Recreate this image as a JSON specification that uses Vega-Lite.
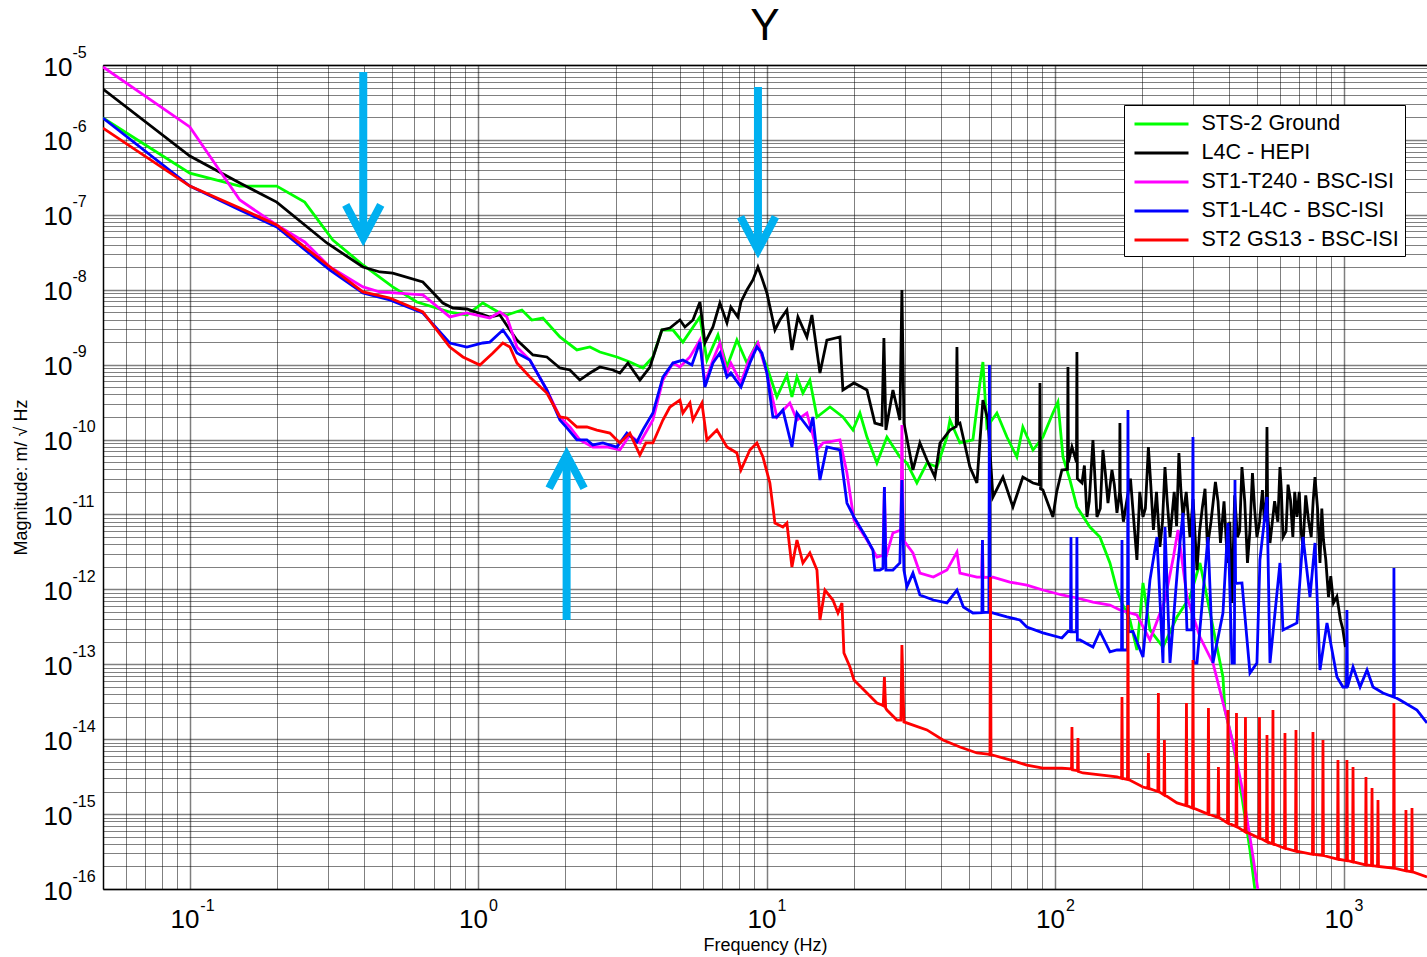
{
"$schema": "https://vega.github.io/schema/vega-lite/v6.json",
"width": 1324, "height": 824,
"autosize": {"type": "none"},
"padding": {"left": 103, "top": 65, "right": 0, "bottom": 68},
"background": "white",
"title": {"text": "Y", "fontSize": 44, "font": "Liberation Sans", "fontWeight": "normal", "anchor": "middle", "frame": "group", "offset": 0, "dy": 40, "baseline": "alphabetic", "color": "#000"},
"config": {"view": {"stroke": null}, "font": "Liberation Sans", "axis": {"labelFont": "Liberation Sans", "titleFont": "Liberation Sans", "labelColor": "#000", "titleColor": "#000"}},
"resolve": {"axis": {"x": "independent", "y": "independent"}},
"datasets": {
"arrows": [
{"f": 0.399, "tail": 8.06e-6, "head": 4.9e-8, "dir": "down"},
{"f": 9.31, "tail": 5.09e-6, "head": 3.39e-8, "dir": "down"},
{"f": 2.022, "tail": 3.9e-13, "head": 6.22e-11, "dir": "up"}
],
"curves": [
{"s":"STS-2 Ground","f":0.05,"v":1.96e-6},{"s":"STS-2 Ground","f":0.1,"v":3.6e-7},{"s":"STS-2 Ground","f":0.149,"v":2.42e-7},{"s":"STS-2 Ground","f":0.2,"v":2.42e-7},{"s":"STS-2 Ground","f":0.25,"v":1.48e-7},{"s":"STS-2 Ground","f":0.313,"v":4.61e-8},{"s":"STS-2 Ground","f":0.398,"v":2.14e-8},{"s":"STS-2 Ground","f":0.505,"v":1.09e-8},{"s":"STS-2 Ground","f":0.612,"v":6.86e-9},{"s":"STS-2 Ground","f":0.796,"v":5.04e-9},{"s":"STS-2 Ground","f":0.912,"v":4.6e-9},{"s":"STS-2 Ground","f":1.036,"v":6.65e-9},{"s":"STS-2 Ground","f":1.187,"v":4.89e-9},{"s":"STS-2 Ground","f":1.255,"v":4.6e-9},{"s":"STS-2 Ground","f":1.415,"v":5.36e-9},{"s":"STS-2 Ground","f":1.532,"v":3.94e-9},{"s":"STS-2 Ground","f":1.673,"v":4.19e-9},{"s":"STS-2 Ground","f":1.917,"v":2.34e-9},{"s":"STS-2 Ground","f":2.195,"v":1.57e-9},{"s":"STS-2 Ground","f":2.435,"v":1.72e-9},{"s":"STS-2 Ground","f":2.637,"v":1.475e-9},{"s":"STS-2 Ground","f":3.02,"v":1.265e-9},{"s":"STS-2 Ground","f":3.35,"v":1.084e-9},{"s":"STS-2 Ground","f":3.717,"v":9.02e-10},{"s":"STS-2 Ground","f":4.026,"v":1.265e-9},{"s":"STS-2 Ground","f":4.325,"v":2.9e-9},{"s":"STS-2 Ground","f":4.724,"v":2.9e-9},{"s":"STS-2 Ground","f":5.114,"v":2.0e-9},{"s":"STS-2 Ground","f":5.86,"v":4.33e-9},{"s":"STS-2 Ground","f":6.194,"v":1.153e-9},{"s":"STS-2 Ground","f":6.765,"v":2.49e-9},{"s":"STS-2 Ground","f":7.27,"v":9.3e-10},{"s":"STS-2 Ground","f":7.87,"v":2.13e-9},{"s":"STS-2 Ground","f":8.525,"v":1.05e-9},{"s":"STS-2 Ground","f":9.234,"v":1.945e-9},{"s":"STS-2 Ground","f":10.0,"v":9.3e-10},{"s":"STS-2 Ground","f":10.83,"v":3.7e-10},{"s":"STS-2 Ground","f":11.73,"v":7.27e-10},{"s":"STS-2 Ground","f":12.21,"v":3.7e-10},{"s":"STS-2 Ground","f":12.71,"v":6.84e-10},{"s":"STS-2 Ground","f":13.33,"v":4.18e-10},{"s":"STS-2 Ground","f":14.09,"v":6.23e-10},{"s":"STS-2 Ground","f":14.91,"v":2.0e-10},{"s":"STS-2 Ground","f":16.54,"v":2.72e-10},{"s":"STS-2 Ground","f":18.34,"v":2.0e-10},{"s":"STS-2 Ground","f":19.87,"v":1.34e-10},{"s":"STS-2 Ground","f":21.01,"v":2.26e-10},{"s":"STS-2 Ground","f":22.22,"v":1.08e-10},{"s":"STS-2 Ground","f":24.06,"v":4.86e-11},{"s":"STS-2 Ground","f":26.06,"v":1.08e-10},{"s":"STS-2 Ground","f":28.9,"v":5.85e-11},{"s":"STS-2 Ground","f":30.57,"v":4.86e-11},{"s":"STS-2 Ground","f":33.1,"v":2.63e-11},{"s":"STS-2 Ground","f":35.86,"v":4.86e-11},{"s":"STS-2 Ground","f":38.85,"v":4.3e-11},{"s":"STS-2 Ground","f":42.07,"v":1.08e-10},{"s":"STS-2 Ground","f":43.09,"v":1.82e-10},{"s":"STS-2 Ground","f":46.67,"v":9.0e-11},{"s":"STS-2 Ground","f":51.76,"v":9.87e-11},{"s":"STS-2 Ground","f":54.73,"v":5.69e-10},{"s":"STS-2 Ground","f":56.06,"v":1.084e-9},{"s":"STS-2 Ground","f":57.88,"v":1.47e-10},{"s":"STS-2 Ground","f":62.68,"v":2.26e-10},{"s":"STS-2 Ground","f":67.9,"v":1.08e-10},{"s":"STS-2 Ground","f":73.5,"v":5.85e-11},{"s":"STS-2 Ground","f":77.1,"v":1.47e-10},{"s":"STS-2 Ground","f":83.6,"v":7.25e-11},{"s":"STS-2 Ground","f":90.5,"v":1.08e-10},{"s":"STS-2 Ground","f":98.0,"v":2.26e-10},{"s":"STS-2 Ground","f":102.0,"v":3.17e-10},{"s":"STS-2 Ground","f":106.2,"v":5.85e-11},{"s":"STS-2 Ground","f":112.3,"v":2.88e-11},{"s":"STS-2 Ground","f":118.7,"v":1.26e-11},{"s":"STS-2 Ground","f":131.7,"v":6.8e-12},{"s":"STS-2 Ground","f":142.6,"v":5.0e-12},{"s":"STS-2 Ground","f":154.5,"v":2.25e-12},{"s":"STS-2 Ground","f":163.4,"v":9.8e-13},{"s":"STS-2 Ground","f":170.1,"v":6.58e-13},{"s":"STS-2 Ground","f":181.2,"v":3.9e-13},{"s":"STS-2 Ground","f":191.6,"v":1.55e-13},{"s":"STS-2 Ground","f":201.1,"v":1.22e-12},{"s":"STS-2 Ground","f":212.6,"v":2.87e-13},{"s":"STS-2 Ground","f":235.9,"v":1.7e-13},{"s":"STS-2 Ground","f":263.8,"v":4.28e-13},{"s":"STS-2 Ground","f":292.6,"v":7.91e-13},{"s":"STS-2 Ground","f":316.9,"v":2.25e-12},{"s":"STS-2 Ground","f":335.1,"v":7.91e-13},{"s":"STS-2 Ground","f":362.9,"v":1.7e-13},{"s":"STS-2 Ground","f":380.7,"v":6.76e-14},{"s":"STS-2 Ground","f":386.8,"v":2.45e-14},{"s":"STS-2 Ground","f":412.4,"v":8.89e-15},{"s":"STS-2 Ground","f":443.0,"v":1.69e-15},{"s":"STS-2 Ground","f":472.3,"v":3.32e-16},{"s":"STS-2 Ground","f":491.5,"v":9.7e-17},
{"s":"L4C - HEPI","f":0.05,"v":4.78e-6},{"s":"L4C - HEPI","f":0.1,"v":6.1e-7},{"s":"L4C - HEPI","f":0.149,"v":2.66e-7},{"s":"L4C - HEPI","f":0.2,"v":1.48e-7},{"s":"L4C - HEPI","f":0.2985,"v":4.21e-8},{"s":"L4C - HEPI","f":0.398,"v":2.01e-8},{"s":"L4C - HEPI","f":0.456,"v":1.725e-8},{"s":"L4C - HEPI","f":0.505,"v":1.67e-8},{"s":"L4C - HEPI","f":0.642,"v":1.27e-8},{"s":"L4C - HEPI","f":0.753,"v":6.65e-9},{"s":"L4C - HEPI","f":0.816,"v":5.7e-9},{"s":"L4C - HEPI","f":0.912,"v":5.53e-9},{"s":"L4C - HEPI","f":1.096,"v":4.33e-9},{"s":"L4C - HEPI","f":1.187,"v":4.6e-9},{"s":"L4C - HEPI","f":1.286,"v":2.9e-9},{"s":"L4C - HEPI","f":1.36,"v":2.13e-9},{"s":"L4C - HEPI","f":1.545,"v":1.345e-9},{"s":"L4C - HEPI","f":1.727,"v":1.265e-9},{"s":"L4C - HEPI","f":1.917,"v":9.02e-10},{"s":"L4C - HEPI","f":2.076,"v":8.48e-10},{"s":"L4C - HEPI","f":2.247,"v":6.23e-10},{"s":"L4C - HEPI","f":2.435,"v":7.73e-10},{"s":"L4C - HEPI","f":2.637,"v":9.3e-10},{"s":"L4C - HEPI","f":2.926,"v":8.48e-10},{"s":"L4C - HEPI","f":3.093,"v":7.73e-10},{"s":"L4C - HEPI","f":3.298,"v":1.05e-9},{"s":"L4C - HEPI","f":3.629,"v":6.23e-10},{"s":"L4C - HEPI","f":3.931,"v":9.3e-10},{"s":"L4C - HEPI","f":4.325,"v":2.9e-9},{"s":"L4C - HEPI","f":4.611,"v":3.08e-9},{"s":"L4C - HEPI","f":4.994,"v":3.94e-9},{"s":"L4C - HEPI","f":5.198,"v":3.18e-9},{"s":"L4C - HEPI","f":5.541,"v":3.94e-9},{"s":"L4C - HEPI","f":5.86,"v":6.86e-9},{"s":"L4C - HEPI","f":6.097,"v":1.945e-9},{"s":"L4C - HEPI","f":6.5,"v":3.18e-9},{"s":"L4C - HEPI","f":6.873,"v":6.65e-9},{"s":"L4C - HEPI","f":7.27,"v":3.6e-9},{"s":"L4C - HEPI","f":7.5,"v":5.88e-9},{"s":"L4C - HEPI","f":7.93,"v":4.33e-9},{"s":"L4C - HEPI","f":8.13,"v":6.86e-9},{"s":"L4C - HEPI","f":8.525,"v":9.92e-9},{"s":"L4C - HEPI","f":8.944,"v":1.35e-8},{"s":"L4C - HEPI","f":9.307,"v":2.01e-8},{"s":"L4C - HEPI","f":9.61,"v":1.43e-8},{"s":"L4C - HEPI","f":10.0,"v":9.05e-9},{"s":"L4C - HEPI","f":10.66,"v":2.9e-9},{"s":"L4C - HEPI","f":11.09,"v":3.94e-9},{"s":"L4C - HEPI","f":11.73,"v":5.36e-9},{"s":"L4C - HEPI","f":12.21,"v":1.57e-9},{"s":"L4C - HEPI","f":12.81,"v":4.33e-9},{"s":"L4C - HEPI","f":13.76,"v":2.34e-9},{"s":"L4C - HEPI","f":14.32,"v":4.6e-9},{"s":"L4C - HEPI","f":15.27,"v":7.73e-10},{"s":"L4C - HEPI","f":16.14,"v":2.13e-9},{"s":"L4C - HEPI","f":17.91,"v":2.34e-9},{"s":"L4C - HEPI","f":18.34,"v":4.59e-10},{"s":"L4C - HEPI","f":20.03,"v":5.69e-10},{"s":"L4C - HEPI","f":22.22,"v":4.59e-10},{"s":"L4C - HEPI","f":23.67,"v":1.66e-10},{"s":"L4C - HEPI","f":25.04,"v":1.56e-10},{"s":"L4C - HEPI","f":25.44,"v":2.27e-9},{"s":"L4C - HEPI","f":25.85,"v":1.34e-10},{"s":"L4C - HEPI","f":27.34,"v":4.59e-10},{"s":"L4C - HEPI","f":28.9,"v":1.82e-10},{"s":"L4C - HEPI","f":29.37,"v":9.92e-9},{"s":"L4C - HEPI","f":29.85,"v":1.66e-10},{"s":"L4C - HEPI","f":32.07,"v":3.92e-11},{"s":"L4C - HEPI","f":33.91,"v":9.0e-11},{"s":"L4C - HEPI","f":35.86,"v":5.33e-11},{"s":"L4C - HEPI","f":38.22,"v":3.16e-11},{"s":"L4C - HEPI","f":39.8,"v":9.0e-11},{"s":"L4C - HEPI","f":43.09,"v":1.34e-10},{"s":"L4C - HEPI","f":45.3,"v":1.5e-10},{"s":"L4C - HEPI","f":45.57,"v":1.72e-9},{"s":"L4C - HEPI","f":45.85,"v":1.6e-10},{"s":"L4C - HEPI","f":46.67,"v":1.66e-10},{"s":"L4C - HEPI","f":50.53,"v":4.3e-11},{"s":"L4C - HEPI","f":53.44,"v":2.63e-11},{"s":"L4C - HEPI","f":56.06,"v":3.37e-10},{"s":"L4C - HEPI","f":58.35,"v":1.82e-10},{"s":"L4C - HEPI","f":60.73,"v":1.71e-11},{"s":"L4C - HEPI","f":65.77,"v":3.16e-11},{"s":"L4C - HEPI","f":71.24,"v":1.26e-11},{"s":"L4C - HEPI","f":77.1,"v":3.16e-11},{"s":"L4C - HEPI","f":83.6,"v":2.63e-11},{"s":"L4C - HEPI","f":88.0,"v":2.5e-11},{"s":"L4C - HEPI","f":88.4,"v":5.69e-10},{"s":"L4C - HEPI","f":88.8,"v":2.2e-11},{"s":"L4C - HEPI","f":90.5,"v":2.12e-11},{"s":"L4C - HEPI","f":98.0,"v":9.25e-12},{"s":"L4C - HEPI","f":101.0,"v":2.0e-11},{"s":"L4C - HEPI","f":105.3,"v":3.92e-11},{"s":"L4C - HEPI","f":110.1,"v":4.0e-11},{"s":"L4C - HEPI","f":110.5,"v":9.3e-10},{"s":"L4C - HEPI","f":110.9,"v":5.0e-11},{"s":"L4C - HEPI","f":114.1,"v":7.95e-11},{"s":"L4C - HEPI","f":118.3,"v":5.0e-11},{"s":"L4C - HEPI","f":118.7,"v":1.475e-9},{"s":"L4C - HEPI","f":119.1,"v":3.0e-11},{"s":"L4C - HEPI","f":123.6,"v":2.63e-11},{"s":"L4C - HEPI","f":126.0,"v":4.5e-11},{"s":"L4C - HEPI","f":128.6,"v":9.25e-12},{"s":"L4C - HEPI","f":131.0,"v":1.5e-11},{"s":"L4C - HEPI","f":134.9,"v":9.87e-11},{"s":"L4C - HEPI","f":139.3,"v":9.25e-12},{"s":"L4C - HEPI","f":143.0,"v":1.2e-11},{"s":"L4C - HEPI","f":146.1,"v":7.25e-11},{"s":"L4C - HEPI","f":149.0,"v":3.5e-11},{"s":"L4C - HEPI","f":152.1,"v":1.42e-11},{"s":"L4C - HEPI","f":157.0,"v":3.92e-11},{"s":"L4C - HEPI","f":160.0,"v":2.5e-11},{"s":"L4C - HEPI","f":163.4,"v":1.05e-11},{"s":"L4C - HEPI","f":166.9,"v":2.0e-11},{"s":"L4C - HEPI","f":167.3,"v":1.66e-10},{"s":"L4C - HEPI","f":167.7,"v":2.0e-11},{"s":"L4C - HEPI","f":172.0,"v":8.0e-12},{"s":"L4C - HEPI","f":176.9,"v":1.56e-11},{"s":"L4C - HEPI","f":182.0,"v":3.0e-11},{"s":"L4C - HEPI","f":187.0,"v":8.0e-12},{"s":"L4C - HEPI","f":191.6,"v":2.47e-12},{"s":"L4C - HEPI","f":196.0,"v":2.0e-11},{"s":"L4C - HEPI","f":201.1,"v":9.25e-12},{"s":"L4C - HEPI","f":205.0,"v":1.2e-11},{"s":"L4C - HEPI","f":210.0,"v":7.95e-11},{"s":"L4C - HEPI","f":214.0,"v":2.5e-11},{"s":"L4C - HEPI","f":218.6,"v":6.2e-12},{"s":"L4C - HEPI","f":224.0,"v":2.0e-11},{"s":"L4C - HEPI","f":230.2,"v":3.68e-12},{"s":"L4C - HEPI","f":235.0,"v":8.0e-12},{"s":"L4C - HEPI","f":239.7,"v":4.3e-11},{"s":"L4C - HEPI","f":244.0,"v":1.5e-11},{"s":"L4C - HEPI","f":249.5,"v":5.0e-12},{"s":"L4C - HEPI","f":258.0,"v":2.0e-11},{"s":"L4C - HEPI","f":263.0,"v":7.0e-12},{"s":"L4C - HEPI","f":267.9,"v":6.61e-11},{"s":"L4C - HEPI","f":272.0,"v":2.2e-11},{"s":"L4C - HEPI","f":276.7,"v":9.25e-12},{"s":"L4C - HEPI","f":284.0,"v":2.0e-11},{"s":"L4C - HEPI","f":292.6,"v":5.0e-12},{"s":"L4C - HEPI","f":300.0,"v":1.6e-11},{"s":"L4C - HEPI","f":309.4,"v":1.81e-12},{"s":"L4C - HEPI","f":316.0,"v":6.0e-12},{"s":"L4C - HEPI","f":323.2,"v":1.26e-11},{"s":"L4C - HEPI","f":330.0,"v":2.2e-11},{"s":"L4C - HEPI","f":336.4,"v":3.68e-12},{"s":"L4C - HEPI","f":346.0,"v":8.0e-12},{"s":"L4C - HEPI","f":358.5,"v":2.71e-11},{"s":"L4C - HEPI","f":366.0,"v":1.5e-11},{"s":"L4C - HEPI","f":373.3,"v":4.16e-12},{"s":"L4C - HEPI","f":384.0,"v":1.5e-11},{"s":"L4C - HEPI","f":394.7,"v":2.25e-12},{"s":"L4C - HEPI","f":402.0,"v":8.0e-12},{"s":"L4C - HEPI","f":409.2,"v":6.58e-13},{"s":"L4C - HEPI","f":418.0,"v":1.8e-11},{"s":"L4C - HEPI","f":427.5,"v":5.0e-12},{"s":"L4C - HEPI","f":435.0,"v":6.0e-12},{"s":"L4C - HEPI","f":443.0,"v":4.3e-11},{"s":"L4C - HEPI","f":453.0,"v":1.5e-11},{"s":"L4C - HEPI","f":463.0,"v":2.25e-12},{"s":"L4C - HEPI","f":472.0,"v":6.0e-12},{"s":"L4C - HEPI","f":481.8,"v":3.58e-11},{"s":"L4C - HEPI","f":490.0,"v":1.2e-11},{"s":"L4C - HEPI","f":499.3,"v":5.0e-12},{"s":"L4C - HEPI","f":510.0,"v":8.0e-12},{"s":"L4C - HEPI","f":521.8,"v":2.12e-11},{"s":"L4C - HEPI","f":530.0,"v":8.0e-12},{"s":"L4C - HEPI","f":538.0,"v":1.5e-11},{"s":"L4C - HEPI","f":541.0,"v":1.47e-10},{"s":"L4C - HEPI","f":544.0,"v":1.0e-11},{"s":"L4C - HEPI","f":554.1,"v":4.16e-12},{"s":"L4C - HEPI","f":575.0,"v":1.5e-11},{"s":"L4C - HEPI","f":590.0,"v":8.0e-12},{"s":"L4C - HEPI","f":600.1,"v":4.3e-11},{"s":"L4C - HEPI","f":607.0,"v":2.0e-11},{"s":"L4C - HEPI","f":614.7,"v":5.0e-12},{"s":"L4C - HEPI","f":630.0,"v":6.0e-12},{"s":"L4C - HEPI","f":640.0,"v":2.5e-11},{"s":"L4C - HEPI","f":652.5,"v":1.56e-11},{"s":"L4C - HEPI","f":665.0,"v":5.0e-12},{"s":"L4C - HEPI","f":675.0,"v":2.0e-11},{"s":"L4C - HEPI","f":687.3,"v":9.25e-12},{"s":"L4C - HEPI","f":700.0,"v":2.0e-11},{"s":"L4C - HEPI","f":710.0,"v":6.0e-12},{"s":"L4C - HEPI","f":721.0,"v":3.68e-12},{"s":"L4C - HEPI","f":737.0,"v":1.8e-11},{"s":"L4C - HEPI","f":753.4,"v":8.43e-12},{"s":"L4C - HEPI","f":770.0,"v":5.0e-12},{"s":"L4C - HEPI","f":782.0,"v":1.5e-11},{"s":"L4C - HEPI","f":793.6,"v":3.16e-11},{"s":"L4C - HEPI","f":810.0,"v":1.2e-11},{"s":"L4C - HEPI","f":825.8,"v":2.25e-12},{"s":"L4C - HEPI","f":838.0,"v":1.2e-11},{"s":"L4C - HEPI","f":849.1,"v":4.56e-12},{"s":"L4C - HEPI","f":865.0,"v":2.5e-12},{"s":"L4C - HEPI","f":883.8,"v":7.91e-13},{"s":"L4C - HEPI","f":900.0,"v":1.5e-12},{"s":"L4C - HEPI","f":919.6,"v":6.58e-13},{"s":"L4C - HEPI","f":945.0,"v":8.0e-13},{"s":"L4C - HEPI","f":972.5,"v":3.9e-13},{"s":"L4C - HEPI","f":990.0,"v":3.0e-13},{"s":"L4C - HEPI","f":1012,"v":1.7e-13},
{"s":"ST1-T240 - BSC-ISI","f":0.05,"v":9.4e-6},{"s":"ST1-T240 - BSC-ISI","f":0.1,"v":1.49e-6},{"s":"ST1-T240 - BSC-ISI","f":0.149,"v":1.58e-7},{"s":"ST1-T240 - BSC-ISI","f":0.2,"v":7.31e-8},{"s":"ST1-T240 - BSC-ISI","f":0.25,"v":4.34e-8},{"s":"ST1-T240 - BSC-ISI","f":0.306,"v":2.01e-8},{"s":"ST1-T240 - BSC-ISI","f":0.398,"v":1.09e-8},{"s":"ST1-T240 - BSC-ISI","f":0.456,"v":9.33e-9},{"s":"ST1-T240 - BSC-ISI","f":0.642,"v":8.51e-9},{"s":"ST1-T240 - BSC-ISI","f":0.796,"v":4.33e-9},{"s":"ST1-T240 - BSC-ISI","f":0.912,"v":4.89e-9},{"s":"ST1-T240 - BSC-ISI","f":1.096,"v":4.19e-9},{"s":"ST1-T240 - BSC-ISI","f":1.187,"v":5.04e-9},{"s":"ST1-T240 - BSC-ISI","f":1.255,"v":4.33e-9},{"s":"ST1-T240 - BSC-ISI","f":1.36,"v":1.72e-9},{"s":"ST1-T240 - BSC-ISI","f":1.508,"v":1.15e-9},{"s":"ST1-T240 - BSC-ISI","f":1.727,"v":4.59e-10},{"s":"ST1-T240 - BSC-ISI","f":1.917,"v":2.0e-10},{"s":"ST1-T240 - BSC-ISI","f":2.076,"v":1.47e-10},{"s":"ST1-T240 - BSC-ISI","f":2.247,"v":9.87e-11},{"s":"ST1-T240 - BSC-ISI","f":2.494,"v":7.95e-11},{"s":"ST1-T240 - BSC-ISI","f":2.789,"v":7.95e-11},{"s":"ST1-T240 - BSC-ISI","f":3.093,"v":7.25e-11},{"s":"ST1-T240 - BSC-ISI","f":3.35,"v":1.15e-10},{"s":"ST1-T240 - BSC-ISI","f":3.629,"v":9.0e-11},{"s":"ST1-T240 - BSC-ISI","f":4.026,"v":1.82e-10},{"s":"ST1-T240 - BSC-ISI","f":4.36,"v":6.23e-10},{"s":"ST1-T240 - BSC-ISI","f":4.724,"v":1.05e-9},{"s":"ST1-T240 - BSC-ISI","f":4.994,"v":9.3e-10},{"s":"ST1-T240 - BSC-ISI","f":5.41,"v":1.265e-9},{"s":"ST1-T240 - BSC-ISI","f":5.86,"v":2.13e-9},{"s":"ST1-T240 - BSC-ISI","f":6.097,"v":5.69e-10},{"s":"ST1-T240 - BSC-ISI","f":6.5,"v":1.15e-9},{"s":"ST1-T240 - BSC-ISI","f":6.873,"v":1.945e-9},{"s":"ST1-T240 - BSC-ISI","f":7.27,"v":7.73e-10},{"s":"ST1-T240 - BSC-ISI","f":7.5,"v":1.05e-9},{"s":"ST1-T240 - BSC-ISI","f":8.13,"v":5.69e-10},{"s":"ST1-T240 - BSC-ISI","f":8.73,"v":1.265e-9},{"s":"ST1-T240 - BSC-ISI","f":9.307,"v":1.945e-9},{"s":"ST1-T240 - BSC-ISI","f":10.0,"v":7.73e-10},{"s":"ST1-T240 - BSC-ISI","f":10.49,"v":3.37e-10},{"s":"ST1-T240 - BSC-ISI","f":10.83,"v":2.0e-10},{"s":"ST1-T240 - BSC-ISI","f":12.01,"v":3.08e-10},{"s":"ST1-T240 - BSC-ISI","f":12.71,"v":1.82e-10},{"s":"ST1-T240 - BSC-ISI","f":13.76,"v":2.26e-10},{"s":"ST1-T240 - BSC-ISI","f":14.91,"v":7.25e-11},{"s":"ST1-T240 - BSC-ISI","f":15.64,"v":9.0e-11},{"s":"ST1-T240 - BSC-ISI","f":17.91,"v":9.87e-11},{"s":"ST1-T240 - BSC-ISI","f":18.94,"v":3.58e-11},{"s":"ST1-T240 - BSC-ISI","f":20.03,"v":8.43e-12},{"s":"ST1-T240 - BSC-ISI","f":22.22,"v":4.56e-12},{"s":"ST1-T240 - BSC-ISI","f":24.06,"v":2.7e-12},{"s":"ST1-T240 - BSC-ISI","f":25.24,"v":2.83e-12},{"s":"ST1-T240 - BSC-ISI","f":25.54,"v":2.33e-11},{"s":"ST1-T240 - BSC-ISI","f":25.85,"v":2.7e-12},{"s":"ST1-T240 - BSC-ISI","f":27.34,"v":5.66e-12},{"s":"ST1-T240 - BSC-ISI","f":29.14,"v":6.2e-12},{"s":"ST1-T240 - BSC-ISI","f":29.37,"v":1.56e-10},{"s":"ST1-T240 - BSC-ISI","f":29.72,"v":4.56e-12},{"s":"ST1-T240 - BSC-ISI","f":32.07,"v":3.06e-12},{"s":"ST1-T240 - BSC-ISI","f":33.91,"v":1.65e-12},{"s":"ST1-T240 - BSC-ISI","f":37.76,"v":1.46e-12},{"s":"ST1-T240 - BSC-ISI","f":42.07,"v":1.81e-12},{"s":"ST1-T240 - BSC-ISI","f":45.57,"v":3.15e-12},{"s":"ST1-T240 - BSC-ISI","f":46.67,"v":1.65e-12},{"s":"ST1-T240 - BSC-ISI","f":53.44,"v":1.46e-12},{"s":"ST1-T240 - BSC-ISI","f":55.5,"v":1.46e-12},{"s":"ST1-T240 - BSC-ISI","f":55.85,"v":4.56e-12},{"s":"ST1-T240 - BSC-ISI","f":56.2,"v":1.44e-12},{"s":"ST1-T240 - BSC-ISI","f":60.73,"v":1.46e-12},{"s":"ST1-T240 - BSC-ISI","f":69.5,"v":1.25e-12},{"s":"ST1-T240 - BSC-ISI","f":79.6,"v":1.14e-12},{"s":"ST1-T240 - BSC-ISI","f":90.5,"v":9.8e-13},{"s":"ST1-T240 - BSC-ISI","f":105.3,"v":8.41e-13},{"s":"ST1-T240 - BSC-ISI","f":118.7,"v":7.67e-13},{"s":"ST1-T240 - BSC-ISI","f":134.9,"v":6.78e-13},{"s":"ST1-T240 - BSC-ISI","f":154.5,"v":6.18e-13},{"s":"ST1-T240 - BSC-ISI","f":167.3,"v":5.3e-13},{"s":"ST1-T240 - BSC-ISI","f":191.6,"v":4.55e-13},{"s":"ST1-T240 - BSC-ISI","f":212.6,"v":2.11e-13},{"s":"ST1-T240 - BSC-ISI","f":239.7,"v":7.21e-13},{"s":"ST1-T240 - BSC-ISI","f":256.4,"v":2.7e-12},{"s":"ST1-T240 - BSC-ISI","f":265.9,"v":6.2e-12},{"s":"ST1-T240 - BSC-ISI","f":285.7,"v":7.91e-13},{"s":"ST1-T240 - BSC-ISI","f":316.9,"v":2.31e-13},{"s":"ST1-T240 - BSC-ISI","f":351.5,"v":1.04e-13},{"s":"ST1-T240 - BSC-ISI","f":386.8,"v":2.45e-14},{"s":"ST1-T240 - BSC-ISI","f":412.4,"v":8.89e-15},{"s":"ST1-T240 - BSC-ISI","f":443.0,"v":2.3e-15},{"s":"ST1-T240 - BSC-ISI","f":479.9,"v":3.32e-16},{"s":"ST1-T240 - BSC-ISI","f":503.3,"v":9.7e-17},
{"s":"ST1-L4C - BSC-ISI","f":0.05,"v":1.96e-6},{"s":"ST1-L4C - BSC-ISI","f":0.1,"v":2.42e-7},{"s":"ST1-L4C - BSC-ISI","f":0.149,"v":1.16e-7},{"s":"ST1-L4C - BSC-ISI","f":0.2,"v":6.88e-8},{"s":"ST1-L4C - BSC-ISI","f":0.306,"v":1.83e-8},{"s":"ST1-L4C - BSC-ISI","f":0.398,"v":9.05e-9},{"s":"ST1-L4C - BSC-ISI","f":0.493,"v":7.29e-9},{"s":"ST1-L4C - BSC-ISI","f":0.642,"v":4.89e-9},{"s":"ST1-L4C - BSC-ISI","f":0.796,"v":1.945e-9},{"s":"ST1-L4C - BSC-ISI","f":0.912,"v":1.72e-9},{"s":"ST1-L4C - BSC-ISI","f":1.036,"v":1.945e-9},{"s":"ST1-L4C - BSC-ISI","f":1.096,"v":2.0e-9},{"s":"ST1-L4C - BSC-ISI","f":1.216,"v":2.9e-9},{"s":"ST1-L4C - BSC-ISI","f":1.286,"v":2.13e-9},{"s":"ST1-L4C - BSC-ISI","f":1.36,"v":1.43e-9},{"s":"ST1-L4C - BSC-ISI","f":1.508,"v":1.15e-9},{"s":"ST1-L4C - BSC-ISI","f":1.727,"v":4.59e-10},{"s":"ST1-L4C - BSC-ISI","f":1.917,"v":1.82e-10},{"s":"ST1-L4C - BSC-ISI","f":2.027,"v":1.43e-10},{"s":"ST1-L4C - BSC-ISI","f":2.195,"v":9.87e-11},{"s":"ST1-L4C - BSC-ISI","f":2.377,"v":9.87e-11},{"s":"ST1-L4C - BSC-ISI","f":2.494,"v":8.46e-11},{"s":"ST1-L4C - BSC-ISI","f":2.7,"v":9.0e-11},{"s":"ST1-L4C - BSC-ISI","f":3.02,"v":7.95e-11},{"s":"ST1-L4C - BSC-ISI","f":3.271,"v":1.22e-10},{"s":"ST1-L4C - BSC-ISI","f":3.543,"v":9.28e-11},{"s":"ST1-L4C - BSC-ISI","f":3.717,"v":1.34e-10},{"s":"ST1-L4C - BSC-ISI","f":4.026,"v":2.26e-10},{"s":"ST1-L4C - BSC-ISI","f":4.36,"v":6.84e-10},{"s":"ST1-L4C - BSC-ISI","f":4.724,"v":1.05e-9},{"s":"ST1-L4C - BSC-ISI","f":5.114,"v":1.15e-9},{"s":"ST1-L4C - BSC-ISI","f":5.495,"v":9.89e-10},{"s":"ST1-L4C - BSC-ISI","f":5.86,"v":2.0e-9},{"s":"ST1-L4C - BSC-ISI","f":6.097,"v":5.03e-10},{"s":"ST1-L4C - BSC-ISI","f":6.5,"v":1.05e-9},{"s":"ST1-L4C - BSC-ISI","f":6.873,"v":1.43e-9},{"s":"ST1-L4C - BSC-ISI","f":7.27,"v":6.84e-10},{"s":"ST1-L4C - BSC-ISI","f":7.5,"v":7.73e-10},{"s":"ST1-L4C - BSC-ISI","f":8.13,"v":5.03e-10},{"s":"ST1-L4C - BSC-ISI","f":8.73,"v":1.05e-9},{"s":"ST1-L4C - BSC-ISI","f":9.234,"v":1.72e-9},{"s":"ST1-L4C - BSC-ISI","f":9.61,"v":1.43e-9},{"s":"ST1-L4C - BSC-ISI","f":10.0,"v":7.73e-10},{"s":"ST1-L4C - BSC-ISI","f":10.49,"v":2.0e-10},{"s":"ST1-L4C - BSC-ISI","f":10.83,"v":2.0e-10},{"s":"ST1-L4C - BSC-ISI","f":11.36,"v":2.48e-10},{"s":"ST1-L4C - BSC-ISI","f":12.21,"v":7.95e-11},{"s":"ST1-L4C - BSC-ISI","f":12.71,"v":2.26e-10},{"s":"ST1-L4C - BSC-ISI","f":14.09,"v":1.34e-10},{"s":"ST1-L4C - BSC-ISI","f":14.43,"v":2.0e-10},{"s":"ST1-L4C - BSC-ISI","f":15.27,"v":2.88e-11},{"s":"ST1-L4C - BSC-ISI","f":16.14,"v":7.95e-11},{"s":"ST1-L4C - BSC-ISI","f":17.91,"v":7.25e-11},{"s":"ST1-L4C - BSC-ISI","f":18.94,"v":1.42e-11},{"s":"ST1-L4C - BSC-ISI","f":20.03,"v":9.25e-12},{"s":"ST1-L4C - BSC-ISI","f":22.03,"v":5.0e-12},{"s":"ST1-L4C - BSC-ISI","f":23.3,"v":3.35e-12},{"s":"ST1-L4C - BSC-ISI","f":23.67,"v":1.81e-12},{"s":"ST1-L4C - BSC-ISI","f":24.64,"v":1.81e-12},{"s":"ST1-L4C - BSC-ISI","f":25.24,"v":1.9e-12},{"s":"ST1-L4C - BSC-ISI","f":25.54,"v":2.33e-11},{"s":"ST1-L4C - BSC-ISI","f":25.85,"v":1.81e-12},{"s":"ST1-L4C - BSC-ISI","f":27.34,"v":1.81e-12},{"s":"ST1-L4C - BSC-ISI","f":28.9,"v":2.25e-12},{"s":"ST1-L4C - BSC-ISI","f":29.37,"v":2.88e-11},{"s":"ST1-L4C - BSC-ISI","f":29.85,"v":1.81e-12},{"s":"ST1-L4C - BSC-ISI","f":30.57,"v":1.08e-12},{"s":"ST1-L4C - BSC-ISI","f":32.07,"v":1.65e-12},{"s":"ST1-L4C - BSC-ISI","f":33.91,"v":8.41e-13},{"s":"ST1-L4C - BSC-ISI","f":37.76,"v":7.21e-13},{"s":"ST1-L4C - BSC-ISI","f":42.07,"v":6.58e-13},{"s":"ST1-L4C - BSC-ISI","f":45.57,"v":9.8e-13},{"s":"ST1-L4C - BSC-ISI","f":47.98,"v":5.82e-13},{"s":"ST1-L4C - BSC-ISI","f":51.76,"v":4.84e-13},{"s":"ST1-L4C - BSC-ISI","f":55.6,"v":4.9e-13},{"s":"ST1-L4C - BSC-ISI","f":55.85,"v":4.56e-12},{"s":"ST1-L4C - BSC-ISI","f":56.1,"v":4.9e-13},{"s":"ST1-L4C - BSC-ISI","f":58.8,"v":4.96e-13},{"s":"ST1-L4C - BSC-ISI","f":59.05,"v":9.89e-10},{"s":"ST1-L4C - BSC-ISI","f":59.3,"v":4.96e-13},{"s":"ST1-L4C - BSC-ISI","f":67.9,"v":4.28e-13},{"s":"ST1-L4C - BSC-ISI","f":75.3,"v":3.9e-13},{"s":"ST1-L4C - BSC-ISI","f":79.6,"v":3.14e-13},{"s":"ST1-L4C - BSC-ISI","f":90.5,"v":2.62e-13},{"s":"ST1-L4C - BSC-ISI","f":105.3,"v":2.24e-13},{"s":"ST1-L4C - BSC-ISI","f":110.5,"v":2.74e-13},{"s":"ST1-L4C - BSC-ISI","f":112.8,"v":2.74e-13},{"s":"ST1-L4C - BSC-ISI","f":113.2,"v":5.0e-12},{"s":"ST1-L4C - BSC-ISI","f":113.6,"v":2.7e-13},{"s":"ST1-L4C - BSC-ISI","f":118.3,"v":2.7e-13},{"s":"ST1-L4C - BSC-ISI","f":118.7,"v":5.0e-12},{"s":"ST1-L4C - BSC-ISI","f":119.1,"v":2.11e-13},{"s":"ST1-L4C - BSC-ISI","f":121.6,"v":2.11e-13},{"s":"ST1-L4C - BSC-ISI","f":134.9,"v":1.7e-13},{"s":"ST1-L4C - BSC-ISI","f":142.6,"v":2.74e-13},{"s":"ST1-L4C - BSC-ISI","f":154.5,"v":1.46e-13},{"s":"ST1-L4C - BSC-ISI","f":163.4,"v":1.55e-13},{"s":"ST1-L4C - BSC-ISI","f":169.5,"v":1.55e-13},{"s":"ST1-L4C - BSC-ISI","f":170.1,"v":4.56e-12},{"s":"ST1-L4C - BSC-ISI","f":170.7,"v":1.55e-13},{"s":"ST1-L4C - BSC-ISI","f":177.7,"v":1.55e-13},{"s":"ST1-L4C - BSC-ISI","f":178.4,"v":2.48e-10},{"s":"ST1-L4C - BSC-ISI","f":179.1,"v":2.7e-13},{"s":"ST1-L4C - BSC-ISI","f":185.6,"v":2.74e-13},{"s":"ST1-L4C - BSC-ISI","f":201.1,"v":1.25e-13},{"s":"ST1-L4C - BSC-ISI","f":212.6,"v":1.33e-12},{"s":"ST1-L4C - BSC-ISI","f":224.8,"v":5.0e-12},{"s":"ST1-L4C - BSC-ISI","f":235.9,"v":1.04e-13},{"s":"ST1-L4C - BSC-ISI","f":239.7,"v":6.8e-12},{"s":"ST1-L4C - BSC-ISI","f":249.5,"v":1.04e-13},{"s":"ST1-L4C - BSC-ISI","f":265.9,"v":2.25e-12},{"s":"ST1-L4C - BSC-ISI","f":276.7,"v":1.05e-11},{"s":"ST1-L4C - BSC-ISI","f":285.7,"v":2.87e-13},{"s":"ST1-L4C - BSC-ISI","f":297.0,"v":2.87e-13},{"s":"ST1-L4C - BSC-ISI","f":299.7,"v":1.08e-10},{"s":"ST1-L4C - BSC-ISI","f":302.0,"v":1.04e-13},{"s":"ST1-L4C - BSC-ISI","f":309.4,"v":1.04e-13},{"s":"ST1-L4C - BSC-ISI","f":337.8,"v":5.0e-12},{"s":"ST1-L4C - BSC-ISI","f":351.5,"v":1.04e-13},{"s":"ST1-L4C - BSC-ISI","f":380.7,"v":4.84e-13},{"s":"ST1-L4C - BSC-ISI","f":396.2,"v":7.69e-12},{"s":"ST1-L4C - BSC-ISI","f":409.2,"v":1.04e-13},{"s":"ST1-L4C - BSC-ISI","f":417.0,"v":1.04e-13},{"s":"ST1-L4C - BSC-ISI","f":419.1,"v":2.88e-11},{"s":"ST1-L4C - BSC-ISI","f":421.0,"v":1.2e-12},{"s":"ST1-L4C - BSC-ISI","f":443.1,"v":1.22e-12},{"s":"ST1-L4C - BSC-ISI","f":472.3,"v":7.65e-14},{"s":"ST1-L4C - BSC-ISI","f":499.3,"v":1.04e-13},{"s":"ST1-L4C - BSC-ISI","f":511.4,"v":2.47e-12},{"s":"ST1-L4C - BSC-ISI","f":541.0,"v":1.71e-11},{"s":"ST1-L4C - BSC-ISI","f":554.1,"v":1.04e-13},{"s":"ST1-L4C - BSC-ISI","f":600.1,"v":2.25e-12},{"s":"ST1-L4C - BSC-ISI","f":614.7,"v":2.87e-13},{"s":"ST1-L4C - BSC-ISI","f":687.3,"v":3.56e-13},{"s":"ST1-L4C - BSC-ISI","f":721.0,"v":5.0e-12},{"s":"ST1-L4C - BSC-ISI","f":762.5,"v":7.91e-13},{"s":"ST1-L4C - BSC-ISI","f":793.6,"v":4.16e-12},{"s":"ST1-L4C - BSC-ISI","f":825.8,"v":8.39e-14},{"s":"ST1-L4C - BSC-ISI","f":873.3,"v":3.56e-13},{"s":"ST1-L4C - BSC-ISI","f":945.6,"v":6.76e-14},{"s":"ST1-L4C - BSC-ISI","f":992,"v":4.97e-14},{"s":"ST1-L4C - BSC-ISI","f":1020,"v":4.97e-14},{"s":"ST1-L4C - BSC-ISI","f":1024,"v":5.3e-13},{"s":"ST1-L4C - BSC-ISI","f":1028,"v":4.97e-14},{"s":"ST1-L4C - BSC-ISI","f":1075,"v":9.2e-14},{"s":"ST1-L4C - BSC-ISI","f":1137,"v":4.97e-14},{"s":"ST1-L4C - BSC-ISI","f":1202,"v":8.39e-14},{"s":"ST1-L4C - BSC-ISI","f":1261,"v":4.97e-14},{"s":"ST1-L4C - BSC-ISI","f":1365,"v":4.13e-14},{"s":"ST1-L4C - BSC-ISI","f":1485,"v":3.66e-14},{"s":"ST1-L4C - BSC-ISI","f":1490,"v":1.93e-12},{"s":"ST1-L4C - BSC-ISI","f":1495,"v":3.66e-14},{"s":"ST1-L4C - BSC-ISI","f":1564,"v":3.33e-14},{"s":"ST1-L4C - BSC-ISI","f":1791,"v":2.45e-14},{"s":"ST1-L4C - BSC-ISI","f":1940,"v":1.645e-14},
{"s":"ST2 GS13 - BSC-ISI","f":0.05,"v":1.44e-6},{"s":"ST2 GS13 - BSC-ISI","f":0.1,"v":2.42e-7},{"s":"ST2 GS13 - BSC-ISI","f":0.149,"v":1.23e-7},{"s":"ST2 GS13 - BSC-ISI","f":0.2,"v":7.31e-8},{"s":"ST2 GS13 - BSC-ISI","f":0.306,"v":2.01e-8},{"s":"ST2 GS13 - BSC-ISI","f":0.398,"v":9.33e-9},{"s":"ST2 GS13 - BSC-ISI","f":0.493,"v":7.76e-9},{"s":"ST2 GS13 - BSC-ISI","f":0.642,"v":5.04e-9},{"s":"ST2 GS13 - BSC-ISI","f":0.796,"v":1.72e-9},{"s":"ST2 GS13 - BSC-ISI","f":0.884,"v":1.265e-9},{"s":"ST2 GS13 - BSC-ISI","f":1.012,"v":9.89e-10},{"s":"ST2 GS13 - BSC-ISI","f":1.123,"v":1.43e-9},{"s":"ST2 GS13 - BSC-ISI","f":1.216,"v":1.945e-9},{"s":"ST2 GS13 - BSC-ISI","f":1.286,"v":1.72e-9},{"s":"ST2 GS13 - BSC-ISI","f":1.36,"v":1.05e-9},{"s":"ST2 GS13 - BSC-ISI","f":1.508,"v":6.84e-10},{"s":"ST2 GS13 - BSC-ISI","f":1.727,"v":4.18e-10},{"s":"ST2 GS13 - BSC-ISI","f":1.917,"v":2.0e-10},{"s":"ST2 GS13 - BSC-ISI","f":2.027,"v":1.94e-10},{"s":"ST2 GS13 - BSC-ISI","f":2.195,"v":1.47e-10},{"s":"ST2 GS13 - BSC-ISI","f":2.377,"v":1.47e-10},{"s":"ST2 GS13 - BSC-ISI","f":2.574,"v":1.34e-10},{"s":"ST2 GS13 - BSC-ISI","f":2.856,"v":1.22e-10},{"s":"ST2 GS13 - BSC-ISI","f":3.093,"v":9.0e-11},{"s":"ST2 GS13 - BSC-ISI","f":3.35,"v":1.22e-10},{"s":"ST2 GS13 - BSC-ISI","f":3.629,"v":6.22e-11},{"s":"ST2 GS13 - BSC-ISI","f":3.807,"v":9.0e-11},{"s":"ST2 GS13 - BSC-ISI","f":4.026,"v":9.0e-11},{"s":"ST2 GS13 - BSC-ISI","f":4.36,"v":1.82e-10},{"s":"ST2 GS13 - BSC-ISI","f":4.611,"v":2.72e-10},{"s":"ST2 GS13 - BSC-ISI","f":4.994,"v":3.37e-10},{"s":"ST2 GS13 - BSC-ISI","f":5.114,"v":2.26e-10},{"s":"ST2 GS13 - BSC-ISI","f":5.41,"v":3.08e-10},{"s":"ST2 GS13 - BSC-ISI","f":5.541,"v":1.82e-10},{"s":"ST2 GS13 - BSC-ISI","f":5.953,"v":3.08e-10},{"s":"ST2 GS13 - BSC-ISI","f":6.194,"v":9.87e-11},{"s":"ST2 GS13 - BSC-ISI","f":6.71,"v":1.34e-10},{"s":"ST2 GS13 - BSC-ISI","f":7.27,"v":7.95e-11},{"s":"ST2 GS13 - BSC-ISI","f":7.87,"v":6.61e-11},{"s":"ST2 GS13 - BSC-ISI","f":8.13,"v":3.92e-11},{"s":"ST2 GS13 - BSC-ISI","f":8.73,"v":7.25e-11},{"s":"ST2 GS13 - BSC-ISI","f":9.234,"v":9.0e-11},{"s":"ST2 GS13 - BSC-ISI","f":9.687,"v":5.85e-11},{"s":"ST2 GS13 - BSC-ISI","f":10.24,"v":2.63e-11},{"s":"ST2 GS13 - BSC-ISI","f":10.66,"v":7.69e-12},{"s":"ST2 GS13 - BSC-ISI","f":11.36,"v":6.8e-12},{"s":"ST2 GS13 - BSC-ISI","f":11.73,"v":7.69e-12},{"s":"ST2 GS13 - BSC-ISI","f":12.21,"v":1.99e-12},{"s":"ST2 GS13 - BSC-ISI","f":12.71,"v":4.56e-12},{"s":"ST2 GS13 - BSC-ISI","f":13.33,"v":2.25e-12},{"s":"ST2 GS13 - BSC-ISI","f":14.09,"v":3.06e-12},{"s":"ST2 GS13 - BSC-ISI","f":14.91,"v":1.81e-12},{"s":"ST2 GS13 - BSC-ISI","f":15.27,"v":3.9e-13},{"s":"ST2 GS13 - BSC-ISI","f":15.89,"v":9.8e-13},{"s":"ST2 GS13 - BSC-ISI","f":16.93,"v":7.21e-13},{"s":"ST2 GS13 - BSC-ISI","f":17.63,"v":4.84e-13},{"s":"ST2 GS13 - BSC-ISI","f":18.2,"v":6.58e-13},{"s":"ST2 GS13 - BSC-ISI","f":18.49,"v":1.415e-13},{"s":"ST2 GS13 - BSC-ISI","f":19.4,"v":9.2e-14},{"s":"ST2 GS13 - BSC-ISI","f":20.03,"v":6.17e-14},{"s":"ST2 GS13 - BSC-ISI","f":22.22,"v":4.13e-14},{"s":"ST2 GS13 - BSC-ISI","f":24.06,"v":3.04e-14},{"s":"ST2 GS13 - BSC-ISI","f":25.04,"v":2.86e-14},{"s":"ST2 GS13 - BSC-ISI","f":25.3,"v":2.8e-14},{"s":"ST2 GS13 - BSC-ISI","f":25.54,"v":6.76e-14},{"s":"ST2 GS13 - BSC-ISI","f":25.8,"v":2.6e-14},{"s":"ST2 GS13 - BSC-ISI","f":26.06,"v":2.45e-14},{"s":"ST2 GS13 - BSC-ISI","f":28.22,"v":1.8e-14},{"s":"ST2 GS13 - BSC-ISI","f":29.14,"v":1.8e-14},{"s":"ST2 GS13 - BSC-ISI","f":29.37,"v":1.81e-13},{"s":"ST2 GS13 - BSC-ISI","f":29.85,"v":1.7e-14},{"s":"ST2 GS13 - BSC-ISI","f":35.86,"v":1.33e-14},{"s":"ST2 GS13 - BSC-ISI","f":40.75,"v":9.75e-15},{"s":"ST2 GS13 - BSC-ISI","f":46.67,"v":7.86e-15},{"s":"ST2 GS13 - BSC-ISI","f":53.44,"v":6.54e-15},{"s":"ST2 GS13 - BSC-ISI","f":58.35,"v":6.3e-15},{"s":"ST2 GS13 - BSC-ISI","f":59.3,"v":6.2e-15},{"s":"ST2 GS13 - BSC-ISI","f":59.53,"v":1.46e-12},{"s":"ST2 GS13 - BSC-ISI","f":59.8,"v":6.2e-15},{"s":"ST2 GS13 - BSC-ISI","f":60.48,"v":6.15e-15},{"s":"ST2 GS13 - BSC-ISI","f":69.5,"v":5.28e-15},{"s":"ST2 GS13 - BSC-ISI","f":79.6,"v":4.52e-15},{"s":"ST2 GS13 - BSC-ISI","f":90.5,"v":4.12e-15},{"s":"ST2 GS13 - BSC-ISI","f":105.3,"v":4.12e-15},{"s":"ST2 GS13 - BSC-ISI","f":113.7,"v":4.0e-15},{"s":"ST2 GS13 - BSC-ISI","f":114.1,"v":1.455e-14},{"s":"ST2 GS13 - BSC-ISI","f":114.5,"v":3.9e-15},{"s":"ST2 GS13 - BSC-ISI","f":119.3,"v":3.8e-15},{"s":"ST2 GS13 - BSC-ISI","f":119.7,"v":1.04e-14},{"s":"ST2 GS13 - BSC-ISI","f":120.1,"v":3.7e-15},{"s":"ST2 GS13 - BSC-ISI","f":124.6,"v":3.54e-15},{"s":"ST2 GS13 - BSC-ISI","f":163.4,"v":3.13e-15},{"s":"ST2 GS13 - BSC-ISI","f":169.5,"v":3.0e-15},{"s":"ST2 GS13 - BSC-ISI","f":170.1,"v":3.66e-14},{"s":"ST2 GS13 - BSC-ISI","f":170.7,"v":3.0e-15},{"s":"ST2 GS13 - BSC-ISI","f":177.7,"v":2.9e-15},{"s":"ST2 GS13 - BSC-ISI","f":178.4,"v":6.18e-13},{"s":"ST2 GS13 - BSC-ISI","f":179.1,"v":2.9e-15},{"s":"ST2 GS13 - BSC-ISI","f":201.1,"v":2.3e-15},{"s":"ST2 GS13 - BSC-ISI","f":209.2,"v":2.2e-15},{"s":"ST2 GS13 - BSC-ISI","f":210.0,"v":6.54e-15},{"s":"ST2 GS13 - BSC-ISI","f":210.8,"v":2.2e-15},{"s":"ST2 GS13 - BSC-ISI","f":218.6,"v":2.1e-15},{"s":"ST2 GS13 - BSC-ISI","f":226.5,"v":2.0e-15},{"s":"ST2 GS13 - BSC-ISI","f":227.4,"v":4.13e-14},{"s":"ST2 GS13 - BSC-ISI","f":228.3,"v":2.0e-15},{"s":"ST2 GS13 - BSC-ISI","f":237.7,"v":1.8e-15},{"s":"ST2 GS13 - BSC-ISI","f":238.6,"v":9.75e-15},{"s":"ST2 GS13 - BSC-ISI","f":239.5,"v":1.8e-15},{"s":"ST2 GS13 - BSC-ISI","f":263.8,"v":1.41e-15},{"s":"ST2 GS13 - BSC-ISI","f":283.4,"v":1.3e-15},{"s":"ST2 GS13 - BSC-ISI","f":284.5,"v":3.04e-14},{"s":"ST2 GS13 - BSC-ISI","f":285.6,"v":1.3e-15},{"s":"ST2 GS13 - BSC-ISI","f":298.5,"v":1.2e-15},{"s":"ST2 GS13 - BSC-ISI","f":299.7,"v":1.14e-13},{"s":"ST2 GS13 - BSC-ISI","f":300.9,"v":1.2e-15},{"s":"ST2 GS13 - BSC-ISI","f":337.8,"v":1.0e-15},{"s":"ST2 GS13 - BSC-ISI","f":339.1,"v":2.61e-14},{"s":"ST2 GS13 - BSC-ISI","f":340.4,"v":1.0e-15},{"s":"ST2 GS13 - BSC-ISI","f":365.8,"v":9.0e-16},{"s":"ST2 GS13 - BSC-ISI","f":367.2,"v":4.25e-15},{"s":"ST2 GS13 - BSC-ISI","f":368.6,"v":9.0e-16},{"s":"ST2 GS13 - BSC-ISI","f":394.7,"v":7.6e-16},{"s":"ST2 GS13 - BSC-ISI","f":396.2,"v":2.45e-14},{"s":"ST2 GS13 - BSC-ISI","f":397.7,"v":7.6e-16},{"s":"ST2 GS13 - BSC-ISI","f":422.5,"v":6.8e-16},{"s":"ST2 GS13 - BSC-ISI","f":424.1,"v":2.24e-14},{"s":"ST2 GS13 - BSC-ISI","f":425.7,"v":6.8e-16},{"s":"ST2 GS13 - BSC-ISI","f":453.9,"v":5.8e-16},{"s":"ST2 GS13 - BSC-ISI","f":455.6,"v":1.98e-14},{"s":"ST2 GS13 - BSC-ISI","f":457.3,"v":5.8e-16},{"s":"ST2 GS13 - BSC-ISI","f":507.6,"v":4.8e-16},{"s":"ST2 GS13 - BSC-ISI","f":509.5,"v":1.98e-14},{"s":"ST2 GS13 - BSC-ISI","f":511.4,"v":4.8e-16},{"s":"ST2 GS13 - BSC-ISI","f":539.0,"v":4.3e-16},{"s":"ST2 GS13 - BSC-ISI","f":541.0,"v":1.14e-14},{"s":"ST2 GS13 - BSC-ISI","f":543.0,"v":4.3e-16},{"s":"ST2 GS13 - BSC-ISI","f":565.3,"v":4.0e-16},{"s":"ST2 GS13 - BSC-ISI","f":567.4,"v":2.45e-14},{"s":"ST2 GS13 - BSC-ISI","f":569.5,"v":4.0e-16},{"s":"ST2 GS13 - BSC-ISI","f":622.2,"v":3.5e-16},{"s":"ST2 GS13 - BSC-ISI","f":624.5,"v":1.21e-14},{"s":"ST2 GS13 - BSC-ISI","f":626.8,"v":3.5e-16},{"s":"ST2 GS13 - BSC-ISI","f":679.3,"v":3.2e-16},{"s":"ST2 GS13 - BSC-ISI","f":681.8,"v":1.33e-14},{"s":"ST2 GS13 - BSC-ISI","f":684.3,"v":3.2e-16},{"s":"ST2 GS13 - BSC-ISI","f":777.9,"v":2.9e-16},{"s":"ST2 GS13 - BSC-ISI","f":780.8,"v":1.25e-14},{"s":"ST2 GS13 - BSC-ISI","f":783.7,"v":2.9e-16},{"s":"ST2 GS13 - BSC-ISI","f":842.7,"v":2.8e-16},{"s":"ST2 GS13 - BSC-ISI","f":845.8,"v":9.75e-15},{"s":"ST2 GS13 - BSC-ISI","f":848.9,"v":2.8e-16},{"s":"ST2 GS13 - BSC-ISI","f":949.7,"v":2.5e-16},{"s":"ST2 GS13 - BSC-ISI","f":953.2,"v":5.28e-15},{"s":"ST2 GS13 - BSC-ISI","f":956.7,"v":2.5e-16},{"s":"ST2 GS13 - BSC-ISI","f":1020,"v":2.4e-16},{"s":"ST2 GS13 - BSC-ISI","f":1024,"v":5.28e-15},{"s":"ST2 GS13 - BSC-ISI","f":1028,"v":2.4e-16},{"s":"ST2 GS13 - BSC-ISI","f":1071,"v":2.3e-16},{"s":"ST2 GS13 - BSC-ISI","f":1075,"v":4.25e-15},{"s":"ST2 GS13 - BSC-ISI","f":1079,"v":2.3e-16},{"s":"ST2 GS13 - BSC-ISI","f":1188,"v":2.1e-16},{"s":"ST2 GS13 - BSC-ISI","f":1192,"v":3.13e-15},{"s":"ST2 GS13 - BSC-ISI","f":1196,"v":2.1e-16},{"s":"ST2 GS13 - BSC-ISI","f":1246,"v":2.05e-16},{"s":"ST2 GS13 - BSC-ISI","f":1251,"v":2.23e-15},{"s":"ST2 GS13 - BSC-ISI","f":1256,"v":2.05e-16},{"s":"ST2 GS13 - BSC-ISI","f":1307,"v":2.0e-16},{"s":"ST2 GS13 - BSC-ISI","f":1312,"v":1.54e-15},{"s":"ST2 GS13 - BSC-ISI","f":1317,"v":2.0e-16},{"s":"ST2 GS13 - BSC-ISI","f":1485,"v":1.9e-16},{"s":"ST2 GS13 - BSC-ISI","f":1490,"v":3.04e-14},{"s":"ST2 GS13 - BSC-ISI","f":1495,"v":1.9e-16},{"s":"ST2 GS13 - BSC-ISI","f":1634,"v":1.75e-16},{"s":"ST2 GS13 - BSC-ISI","f":1640,"v":1.13e-15},{"s":"ST2 GS13 - BSC-ISI","f":1646,"v":1.75e-16},{"s":"ST2 GS13 - BSC-ISI","f":1715,"v":1.7e-16},{"s":"ST2 GS13 - BSC-ISI","f":1721,"v":1.21e-15},{"s":"ST2 GS13 - BSC-ISI","f":1727,"v":1.7e-16},{"s":"ST2 GS13 - BSC-ISI","f":1940,"v":1.45e-16}
]
},
"layer": [
{
"data": {"name": "curves"},
"mark": {"type": "line", "strokeWidth": 2.8, "clip": true},
"encoding": {
"x": {"field": "f", "type": "quantitative", "scale": {"type": "log", "domain": [0.05, 1940], "nice": false},
 "axis": {"orient": "bottom", "values": [0.05,0.06,0.07,0.08,0.09,0.1,0.2,0.3,0.4,0.5,0.6,0.7,0.8,0.9,1,2,3,4,5,6,7,8,9,10,20,30,40,50,60,70,80,90,100,200,300,400,500,600,700,800,900,1000],
  "labels": false, "ticks": false, "tickSize": 0, "grid": true, "gridColor": "#000", "gridDash": [1, 1], "gridOpacity": 1,
  "gridWidth": {"condition": {"test": "abs(log(datum.value)/LN10 - round(log(datum.value)/LN10)) < 0.01", "value": 1.5}, "value": 1},
  "domain": true, "domainColor": "#000", "domainWidth": 1.5,
  "title": "Frequency (Hz)", "titleFontSize": 18, "titleFontWeight": "normal", "titleX": 662, "titleY": 61, "titleAlign": "center", "titleBaseline": "alphabetic", "titleAngle": 0}},
"y": {"field": "v", "type": "quantitative", "scale": {"type": "log", "domain": [1e-16, 1e-5], "nice": false},
 "axis": {"orient": "left", "values": [1e-16,2e-16,3e-16,4e-16,5e-16,6e-16,7e-16,8e-16,9e-16,1e-15,2e-15,3e-15,4e-15,5e-15,6e-15,7e-15,8e-15,9e-15,1e-14,2e-14,3e-14,4e-14,5e-14,6e-14,7e-14,8e-14,9e-14,1e-13,2e-13,3e-13,4e-13,5e-13,6e-13,7e-13,8e-13,9e-13,1e-12,2e-12,3e-12,4e-12,5e-12,6e-12,7e-12,8e-12,9e-12,1e-11,2e-11,3e-11,4e-11,5e-11,6e-11,7e-11,8e-11,9e-11,1e-10,2e-10,3e-10,4e-10,5e-10,6e-10,7e-10,8e-10,9e-10,1e-9,2e-9,3e-9,4e-9,5e-9,6e-9,7e-9,8e-9,9e-9,1e-8,2e-8,3e-8,4e-8,5e-8,6e-8,7e-8,8e-8,9e-8,1e-7,2e-7,3e-7,4e-7,5e-7,6e-7,7e-7,8e-7,9e-7,1e-6,2e-6,3e-6,4e-6,5e-6,6e-6,7e-6,8e-6,9e-6,1e-5],
  "labels": false, "ticks": false, "tickSize": 0, "grid": true, "gridColor": "#000", "gridDash": [1, 1], "gridOpacity": 1,
  "gridWidth": {"condition": {"test": "abs(log(datum.value)/LN10 - round(log(datum.value)/LN10)) < 0.01", "value": 1.5}, "value": 1},
  "domain": true, "domainColor": "#000", "domainWidth": 1.5,
  "title": "Magnitude: m/ √ Hz", "titleFontSize": 18, "titleFontWeight": "normal", "titleX": -82, "titleY": 412, "titleAlign": "center", "titleBaseline": "middle", "titleAngle": -90}},
"color": {"field": "s", "type": "nominal",
 "scale": {"domain": ["STS-2 Ground", "L4C - HEPI", "ST1-T240 - BSC-ISI", "ST1-L4C - BSC-ISI", "ST2 GS13 - BSC-ISI"], "range": ["#00ff00", "#000000", "#ff00ff", "#0000ff", "#ff0000"]},
 "legend": {"orient": "none", "legendX": 1021, "legendY": 40, "title": null, "fillColor": "#ffffff", "strokeColor": "#000000", "padding": 5.5, "symbolType": "M-2.25,0L2.25,0", "symbolStrokeWidth": 3, "symbolSize": 576, "symbolOffset": 18.5, "labelFont": "Liberation Sans", "labelFontSize": 21.5, "labelColor": "#000", "labelOffset": 26.5, "labelLimit": 400, "rowPadding": 5, "cornerRadius": 0}}
}
},
{
"data": {"name": "arrows"},
"mark": {"type": "point", "opacity": 0},
"encoding": {
"x": {"field": "f", "type": "quantitative", "scale": {"type": "log", "domain": [0.05, 1940], "nice": false},
 "axis": {"orient": "bottom", "values": [0.1, 1, 10, 100, 1000], "labelExpr": "'10'", "labelFontSize": 26, "labelAlign": "right", "labelBaseline": "alphabetic", "labelPadding": 38, "labelOffset": 9, "labelFlush": false, "labelOverlap": false, "labelBound": false, "ticks": false, "tickSize": 0, "domain": false, "grid": false, "title": null}},
"y": {"field": "tail", "type": "quantitative", "scale": {"type": "log", "domain": [1e-16, 1e-5], "nice": false},
 "axis": {"orient": "left", "values": [1e-16,1e-15,1e-14,1e-13,1e-12,1e-11,1e-10,1e-9,1e-8,1e-7,1e-6,1e-5], "labelExpr": "'10'", "labelFontSize": 26, "labelAlign": "right", "labelBaseline": "alphabetic", "labelPadding": 31, "labelOffset": 10, "labelOverlap": false, "labelBound": false, "ticks": false, "tickSize": 0, "domain": false, "grid": false, "title": null}}
}
},
{
"data": {"name": "arrows"},
"mark": {"type": "point", "opacity": 0},
"encoding": {
"x": {"field": "f", "type": "quantitative", "scale": {"type": "log", "domain": [0.05, 1940], "nice": false},
 "axis": {"orient": "bottom", "values": [0.1, 1, 10, 100, 1000], "labelExpr": "'' + round(log(datum.value)/LN10)", "labelFontSize": 16, "labelAlign": "left", "labelBaseline": "alphabetic", "labelPadding": 21, "labelOffset": 10, "labelFlush": false, "labelOverlap": false, "labelBound": false, "ticks": false, "tickSize": 0, "domain": false, "grid": false, "title": null}},
"y": {"field": "tail", "type": "quantitative", "scale": {"type": "log", "domain": [1e-16, 1e-5], "nice": false},
 "axis": {"orient": "left", "values": [1e-16,1e-15,1e-14,1e-13,1e-12,1e-11,1e-10,1e-9,1e-8,1e-7,1e-6,1e-5], "labelExpr": "'' + round(log(datum.value)/LN10)", "labelFontSize": 16, "labelAlign": "left", "labelBaseline": "alphabetic", "labelPadding": 31, "labelOffset": -8, "labelOverlap": false, "labelBound": false, "ticks": false, "tickSize": 0, "domain": false, "grid": false, "title": null}}
}
},
{
"data": {"name": "arrows"},
"mark": {"type": "point", "opacity": 0},
"encoding": {
"x": {"field": "f", "type": "quantitative", "scale": {"type": "log", "domain": [0.05, 1940], "nice": false},
 "axis": {"orient": "top", "labels": false, "ticks": false, "tickSize": 0, "grid": false, "domain": true, "domainColor": "#000", "domainWidth": 1.5, "title": null}},
"y": {"field": "tail", "type": "quantitative", "scale": {"type": "log", "domain": [1e-16, 1e-5], "nice": false}, "axis": null}
}
},
{
"data": {"name": "arrows"},
"mark": {"type": "rule", "color": "#00b0f0", "strokeWidth": 8, "strokeCap": "butt"},
"encoding": {
"x": {"field": "f", "type": "quantitative", "axis": null},
"y": {"field": "tail", "type": "quantitative", "axis": null},
"y2": {"field": "head"}
}
},
{
"data": {"name": "arrows"},
"transform": [{"filter": "datum.dir == 'down'"}],
"mark": {"type": "point", "shape": "M-1,-1.9L0,0L1,-1.9", "filled": false, "stroke": "#00b0f0", "strokeWidth": 8, "size": 1225, "opacity": 1, "strokeJoin": "miter", "strokeCap": "butt"},
"encoding": {
"x": {"field": "f", "type": "quantitative", "axis": null},
"y": {"field": "head", "type": "quantitative", "axis": null}
}
},
{
"data": {"name": "arrows"},
"transform": [{"filter": "datum.dir == 'up'"}],
"mark": {"type": "point", "shape": "M-1,1.9L0,0L1,1.9", "filled": false, "stroke": "#00b0f0", "strokeWidth": 8, "size": 1225, "opacity": 1, "strokeJoin": "miter", "strokeCap": "butt"},
"encoding": {
"x": {"field": "f", "type": "quantitative", "axis": null},
"y": {"field": "head", "type": "quantitative", "axis": null}
}
}
]
}
